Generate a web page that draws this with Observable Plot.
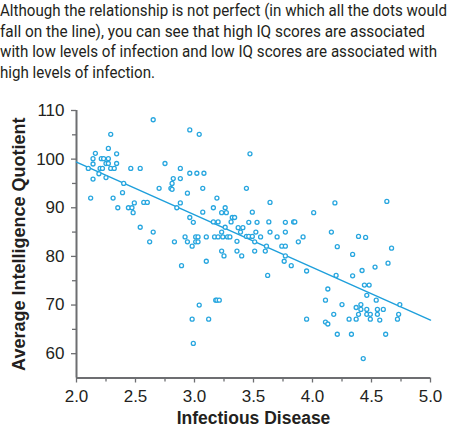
<!DOCTYPE html>
<html>
<head>
<meta charset="utf-8">
<script src="https://cdn.jsdelivr.net/npm/d3@7"></script>
<script src="https://cdn.jsdelivr.net/npm/@observablehq/plot@0.6"></script>
<style>
  html, body { margin: 0; padding: 0; background: #fff; }
  #wrap { width: 450px; height: 425px; overflow: hidden; position: relative; }
  #note { height: 90px; font-family: "Liberation Sans Narrow", "Roboto", sans-serif; font-size: 17px; color: #231f20; line-height: 20.7px; padding-top: 0px; box-sizing: border-box; }
  #note div { white-space: nowrap; }
  svg { display: block; }
</style>
</head>
<body>
<div id="wrap">
  <div id="note"></div>
  <div id="chart"></div>
</div>
<script>
const noteLines = [
  "Although the relationship is not perfect (in which all the dots would",
  "fall on the line), you can see that high IQ scores are associated",
  "with low levels of infection and low IQ scores are associated with",
  "high levels of infection."
];
const xLabel = "Infectious Disease";
const yLabel = "Average Intelligence Quotient";
const xTicks = [2.0, 2.5, 3.0, 3.5, 4.0, 4.5, 5.0];
const xMinor = [2.25, 2.75, 3.25, 3.75, 4.25, 4.75];
const yTicks = [60, 70, 80, 90, 100, 110];
const yMinor = [65, 75, 85, 95, 105];
const xDomain = [2.0, 5.0];
const yDomain = [55, 110];
// regression line end points
const fitX = [2.0, 5.0];
const fitY = [99.4, 66.9];

// Infectious disease burden
const disease = [
  2.65,2.29,2.96,2.27,2.16,2.34,2.14,2.21,2.23,2.27,2.14,2.25,2.27,2.34,2.75,2.10,2.20,2.22,2.29,2.32,
  2.46,2.54,2.88,2.96,2.19,2.25,2.14,2.82,2.88,2.40,2.81,2.70,2.80,2.81,2.39,2.94,2.12,2.31,2.49,2.57,
  2.60,2.88,2.35,2.44,2.47,2.85,2.48,2.96,2.54,2.65,2.92,2.62,2.83,2.94,
  3.04,3.47,3.02,3.08,3.07,3.44,3.19,3.64,3.26,3.16,3.07,3.23,3.27,3.49,3.32,3.34,2.99,3.16,3.20,3.31,
  3.46,3.53,3.63,3.77,3.26,3.37,3.41,3.23,3.39,3.52,3.64,3.77,3.01,3.03,3.10,3.17,3.20,3.24,3.28,3.30,
  3.44,3.46,3.49,3.56,3.70,3.01,3.03,3.36,3.51,3.61,3.74,3.77,2.98,
  3.23,3.25,3.36,3.40,3.51,3.60,3.77,3.76,2.89,3.10,3.62,3.04,3.18,3.19,3.21,2.98,3.12,2.99,
  4.19,4.63,4.01,3.84,3.85,4.16,3.92,4.39,4.45,3.88,4.21,4.67,
  4.34,3.82,3.95,4.42,4.53,4.64,4.20,4.34,4.44,4.48,4.13,4.46,4.11,4.54,4.25,4.41,4.74,4.37,4.41,4.46,
  4.55,4.60,4.18,4.39,4.46,4.49,4.55,4.73,3.95,4.31,4.37,4.49,4.57,4.72,4.11,4.13,4.21,4.33,4.62,4.43
];
// Average IQ
const iq = [
  108.1,105.1,106.0,102.2,101.2,101.1,100.1,100.1,100.1,100.1,99.0,99.1,99.1,99.1,99.1,98.1,98.1,98.1,98.1,98.1,
  98.1,98.1,98.1,97.1,97.0,96.2,95.9,96.0,96.0,95.0,95.0,94.0,94.0,93.8,93.1,93.0,92.0,92.0,91.0,91.1,
  91.1,91.0,90.0,90.0,90.0,90.0,89.0,88.0,86.0,85.0,84.0,83.0,83.0,83.0,
  105.1,101.1,97.1,97.1,94.0,94.0,92.0,91.1,90.0,90.0,89.1,89.0,89.0,89.1,88.0,88.0,87.0,87.1,87.1,87.1,
  87.0,87.0,87.1,87.0,86.0,85.9,85.9,85.0,85.0,85.0,85.0,85.0,84.0,84.0,84.0,84.0,84.0,84.0,84.0,84.0,
  84.1,84.1,84.1,84.0,84.0,83.0,83.0,83.1,83.0,82.1,82.1,82.1,82.1,
  81.1,80.1,81.1,80.1,81.1,81.1,80.1,79.0,78.1,79.0,76.1,70.0,71.0,71.0,71.0,67.1,67.1,62.1,
  91.0,91.3,89.0,87.1,87.1,85.0,84.0,84.1,83.9,83.0,82.0,81.7,
  80.4,78.1,77.0,77.1,77.8,78.6,76.1,76.0,74.1,74.1,73.3,72.0,71.0,71.0,70.1,70.1,70.1,69.5,69.1,69.1,
  69.1,69.1,68.1,68.1,68.1,68.1,68.1,68.1,67.1,67.1,67.1,67.1,66.9,67.1,66.5,66.1,64.0,64.0,64.0,59.0
];

const note = document.getElementById("note");
const targets = [447, 425, 437, 155];
noteLines.forEach((t, i) => {
  const d = document.createElement("div");
  d.textContent = t;
  note.appendChild(d);
});

const points = disease.map((x, i) => ({x, y: iq[i]}));
const fit = fitX.map((x, i) => ({x, y: fitY[i]}));

const axisColor = "#6d6e71";
const dotColor = "#27a6df";
const textColor = "#231f20";

const chart = Plot.plot({
  width: 450,
  height: 335,
  marginTop: 20,
  marginLeft: 76,
  marginRight: 20,
  marginBottom: 47.5,
  style: {fontFamily: "'Liberation Sans', Arial, sans-serif", fontSize: "17px", color: textColor, background: "#fff", overflow: "visible"},
  x: {domain: xDomain},
  y: {domain: yDomain},
  marks: [
    Plot.axisX({ticks: xMinor, tickSize: 4, text: null, stroke: axisColor, strokeWidth: 1.3, label: null}),
    Plot.axisY({ticks: yMinor, tickSize: 4, text: null, stroke: axisColor, strokeWidth: 1.3, label: null}),
    Plot.axisX({ticks: xTicks, tickFormat: d => d.toFixed(1), tickSize: 5, tickPadding: 7, stroke: axisColor, strokeWidth: 1.3, fill: textColor, label: null}),
    Plot.axisY({ticks: yTicks, tickFormat: d => String(d), tickSize: 5, tickPadding: 7, stroke: axisColor, strokeWidth: 1.3, fill: textColor, label: null}),
    Plot.ruleY([yDomain[0]], {x1: xDomain[0], x2: xDomain[1], stroke: axisColor, strokeWidth: 2}),
    Plot.ruleX([xDomain[0]], {y1: yDomain[0], y2: yDomain[1], stroke: axisColor, strokeWidth: 2}),
    Plot.line(fit, {x: "x", y: "y", stroke: "#1e9fdb", strokeWidth: 1.4}),
    Plot.dot(points, {x: "x", y: "y", r: 2, stroke: dotColor, strokeWidth: 1.3, fill: "#fff"}),
    Plot.text([xLabel], {frameAnchor: "bottom", lineAnchor: "bottom", dy: 45.5, fontSize: 17.5, fontWeight: "bold", fill: textColor}),
    Plot.text([yLabel], {frameAnchor: "left", textAnchor: "middle", rotate: -90, lineAnchor: "middle", dx: -57, fontSize: 18, fontWeight: "bold", fill: textColor})
  ]
});
document.getElementById("chart").appendChild(chart);

// fit note lines to the widths seen in the reference
note.querySelectorAll("div").forEach((d, i) => {
  const span = document.createElement("span");
  span.textContent = d.textContent;
  d.textContent = "";
  d.appendChild(span);
  const w = span.getBoundingClientRect().width;
  if (w > 0) {
    const s = targets[i] / w;
    span.style.display = "inline-block";
    span.style.transformOrigin = "0 0";
    span.style.transform = `scaleX(${s})`;
  }
});
</script>
</body>
</html>
